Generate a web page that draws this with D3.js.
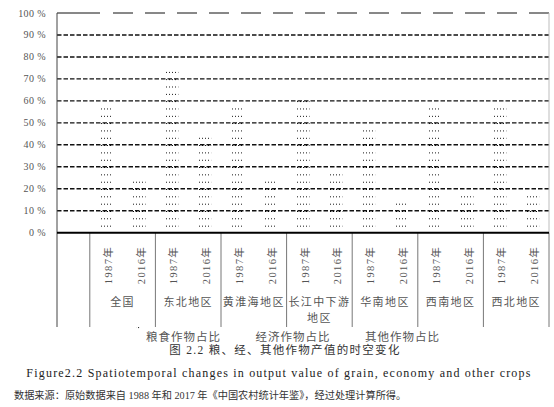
<!DOCTYPE html>
<html>
<head>
<meta charset="utf-8">
<script src="https://cdn.jsdelivr.net/npm/d3@7"></script>
<style>
body { margin: 0; background: #fff; }
svg { display: block; }
text { font-family: "Liberation Serif", "Noto Sans CJK SC", serif; }
</style>
</head>
<body>
<svg id="chart" width="554" height="407"></svg>
<script>
// 区域与年份
const groups = ["全国", "东北地区", "黄淮海地区", "长江中下游地区", "华南地区", "西南地区", "西北地区"];
const groupLines = [["全国"], ["东北地区"], ["黄淮海地区"], ["长江中下游", "地区"], ["华南地区"], ["西南地区"], ["西北地区"]];
const years = ["1987年", "2016年"];
// 粮食作物占比(%)，按 区域 x 年份 顺序
const grainShare = [58.5, 25, 74.5, 45, 58.5, 25, 61, 28.5, 49, 15.5, 58.5, 18.5, 59, 18.5];
const yTicks = [0, 10, 20, 30, 40, 50, 60, 70, 80, 90, 100];
const legendLabels = ["粮食作物占比", "经济作物占比", "其他作物占比"];

const svg = d3.select("#chart");
const x0 = 57, x1 = 549, yTop = 13, yBottom = 232.7;

// 第一个空位 + 每个区域两根柱
const slots = [""];
groups.forEach(g => years.forEach(yr => slots.push(g + "|" + yr)));
const bars = slots.slice(1).map((k, i) => ({ key: k, group: k.split("|")[0], year: k.split("|")[1], value: grainShare[i] }));

const x = d3.scaleBand().domain(slots).range([x0, x1]).paddingInner(0.6).paddingOuter(0.3);
const y = d3.scaleLinear().domain([0, 100]).range([yBottom, yTop]);
const step = x.step();

// 点状填充，每根柱一个 pattern，让点对齐柱子
const defs = svg.append("defs");
const rowH = (y(0) - y(10)) / 3;
defs.selectAll("pattern")
    .data(bars)
    .enter().append("pattern")
    .attr("id", (d, i) => "dots" + i)
    .attr("patternUnits", "userSpaceOnUse")
    .attr("x", d => Math.round(x(d.key)) + 1)
    .attr("y", Math.round(y(0)))
    .attr("width", 3)
    .attr("height", rowH)
    .append("rect")
    .attr("width", 1.3)
    .attr("height", 1.3)
    .attr("shape-rendering", "crispEdges")
    .attr("fill", "#000");

defs.append("pattern")
    .attr("id", "dotsLegend")
    .attr("patternUnits", "userSpaceOnUse")
    .attr("width", 3).attr("height", 3)
    .append("rect").attr("width", 1.1).attr("height", 1.1).attr("fill", "#333");

// 网格线
svg.append("g")
    .selectAll("line")
    .data(yTicks.filter(t => t > 0 && t < 100))
    .enter().append("line")
    .attr("x1", x0).attr("x2", x1)
    .attr("y1", d => y(d)).attr("y2", d => y(d))
    .attr("stroke", "#111")
    .attr("stroke-width", 1.4)
    .attr("stroke-dasharray", "4.5,2");

svg.append("line")
    .attr("x1", x0).attr("x2", x1)
    .attr("y1", y(100)).attr("y2", y(100))
    .attr("stroke", "#111")
    .attr("stroke-width", 1)
    .attr("stroke-dasharray", "43,13,20,12,20,12,20,12,20,12,20,12,20,12,20,12,20,12,20,12,20,12,20,12,20,12,20,12,20,12,20,12");

// 右边框
svg.append("line")
    .attr("x1", x1).attr("x2", x1)
    .attr("y1", y(100)).attr("y2", y(0))
    .attr("stroke", "#bdbdbd");

// 柱子（粮食作物占比）
svg.append("g")
    .selectAll("rect")
    .data(bars)
    .enter().append("rect")
    .attr("x", d => x(d.key))
    .attr("y", d => y(d.value))
    .attr("width", x.bandwidth())
    .attr("height", d => y(0) - y(d.value))
    .attr("fill", (d, i) => "url(#dots" + i + ")");

// y 轴标签
svg.append("g")
    .selectAll("text")
    .data(yTicks)
    .enter().append("text")
    .attr("x", 46)
    .attr("y", d => y(d))
    .attr("dy", "0.35em")
    .attr("text-anchor", "end")
    .attr("font-size", 10)
    .attr("letter-spacing", 0.4)
    .attr("fill", "#555")
    .text(d => d + " %");

// 左轴线
svg.append("line")
    .attr("x1", x0).attr("x2", x0)
    .attr("y1", y(100)).attr("y2", 327)
    .attr("stroke", "#444");

// 分组分隔线
const seps = d3.range(groups.length + 1).map(g => x0 + (1 + 2 * g) * step);
svg.append("g")
    .selectAll("line")
    .data(seps)
    .enter().append("line")
    .attr("x1", d => d).attr("x2", d => d)
    .attr("y1", y(0)).attr("y2", 327)
    .attr("stroke", "#777");

// x 轴
svg.append("line")
    .attr("x1", x0).attr("x2", x1)
    .attr("y1", y(0)).attr("y2", y(0))
    .attr("stroke", "#000")
    .attr("stroke-width", 2);

// 年份（竖排）
svg.append("g")
    .selectAll("text")
    .data(bars)
    .enter().append("text")
    .attr("transform", d => `translate(${x(d.key) + x.bandwidth() / 2 + 2},265) rotate(-90)`)
    .attr("text-anchor", "middle")
    .attr("dy", "0.35em")
    .attr("font-size", 10.5)
    .attr("letter-spacing", 1.4)
    .attr("fill", "#555")
    .text(d => d.year);

// 区域名
const gl = svg.append("g")
    .selectAll("text")
    .data(groups)
    .enter().append("text")
    .attr("x", (d, i) => x0 + (2 + 2 * i) * step)
    .attr("y", 306)
    .attr("text-anchor", "middle")
    .attr("font-size", 11)
    .attr("letter-spacing", 1.4)
    .attr("fill", "#555");
gl.selectAll("tspan")
    .data((d, i) => groupLines[i].map(t => ({ t, cx: x0 + (2 + 2 * i) * step })))
    .enter().append("tspan")
    .attr("x", d => d.cx)
    .attr("dy", (d, j) => j === 0 ? 0 : 16)
    .text(d => d.t);

// 图例
svg.append("rect")
    .attr("x", 136).attr("y", 326)
    .attr("width", 5).attr("height", 4)
    .attr("fill", "url(#dotsLegend)");

svg.append("g")
    .selectAll("text")
    .data(legendLabels)
    .enter().append("text")
    .attr("x", (d, i) => 146 + i * 109.5)
    .attr("y", 341)
    .attr("font-size", 11.5)
    .attr("letter-spacing", 1)
    .attr("fill", "#555")
    .text(d => d);

// 图题
svg.append("text")
    .attr("x", 285).attr("y", 353.5)
    .attr("text-anchor", "middle")
    .attr("font-size", 11.5)
    .attr("letter-spacing", 1.3)
    .attr("fill", "#333")
    .text("图 2.2 粮、经、其他作物产值的时空变化");

svg.append("text")
    .attr("x", 279).attr("y", 377)
    .attr("text-anchor", "middle")
    .attr("font-size", 12)
    .attr("letter-spacing", 1.2)
    .attr("fill", "#222")
    .text("Figure2.2 Spatiotemporal changes in output value of grain, economy and other crops");

svg.append("text")
    .attr("x", 14).attr("y", 399)
    .attr("font-size", 10.2)
    .attr("fill", "#333")
    .text("数据来源：原始数据来自 1988 年和 2017 年《中国农村统计年鉴》，经过处理计算所得。");
</script>
</body>
</html>
